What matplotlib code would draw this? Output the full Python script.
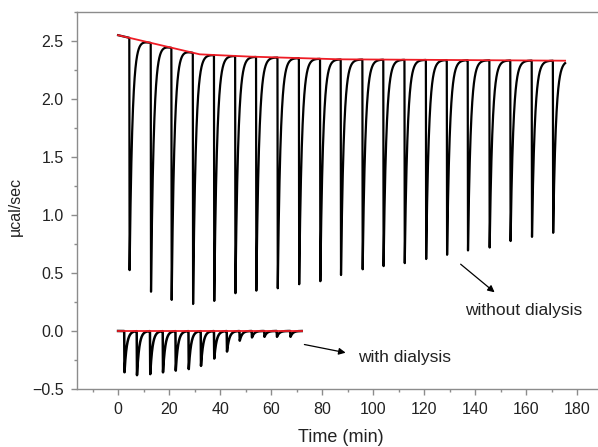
"""ITC thermogram: with and without dialysis."""

import matplotlib.pyplot as plt
import numpy as np
from matplotlib.ticker import MultipleLocator

plt.rcParams["font.family"] = ["Liberation Sans", "DejaVu Sans"]

# Без диализа: моменты инъекций (мин) и минимумы пиков (µcal/sec)
nd_inj = [4.4, 12.8, 20.9, 29.3, 37.6, 45.9, 54.1, 62.5, 70.9, 79.2, 87.3,
          95.8, 104.0, 112.3, 120.7, 128.9, 137.1, 145.6, 153.8, 162.2, 170.5]
nd_min = [0.52, 0.34, 0.26, 0.23, 0.26, 0.32, 0.345, 0.36, 0.40, 0.43, 0.475,
          0.53, 0.56, 0.58, 0.62, 0.65, 0.69, 0.72, 0.77, 0.81, 0.84]
nd_base_t = [0, 32, 52, 87, 175.3]
nd_base_v = [2.55, 2.385, 2.365, 2.342, 2.33]

# С диализом
wd_inj = [2.4, 7.3, 12.5, 17.5, 22.5, 27.6, 32.4, 37.6, 42.6, 47.6, 52.4,
          57.3, 62.2, 67.5]
wd_min = [-0.356, -0.38, -0.371, -0.356, -0.342, -0.328, -0.30, -0.237,
          -0.177, -0.083, -0.055, -0.05, -0.05, -0.05]
wd_base_t = [0, 72]
wd_base_v = [0.0, 0.0]


def thermogram(t, base_t, base_v, inj, mins, tau=1.1, drop=0.12):
    """Базовая линия минус пики с экспоненциальным восстановлением."""
    y = np.interp(t, base_t, base_v)
    for ti, m in zip(inj, mins):
        depth = np.interp(ti, base_t, base_v) - m
        dt = t - ti
        shape = np.where(dt < 0, 0.0,
                         np.where(dt < drop, dt / drop,
                                  np.exp(-(dt - drop) / tau)))
        y = y - depth * shape
    return y


fig = plt.figure(figsize=(5.98, 4.47), dpi=100)
ax = fig.add_axes([0.1288, 0.1298, 0.8712, 0.8434])

t_nd = np.linspace(0, nd_base_t[-1], 30000)
t_wd = np.linspace(0, wd_base_t[-1], 15000)

ax.plot(t_nd, thermogram(t_nd, nd_base_t, nd_base_v, nd_inj, nd_min, tau=1.1),
        color="black", lw=1.6)
ax.plot(t_wd, thermogram(t_wd, wd_base_t, wd_base_v, wd_inj, wd_min, tau=0.9),
        color="black", lw=1.8)
ax.plot(nd_base_t, nd_base_v, color="#ee1c25", lw=1.3)
ax.plot(wd_base_t, wd_base_v, color="#ee1c25", lw=1.3)

# Подписи со стрелками
arrow = dict(arrowstyle="-|>", color="black", lw=0.9, mutation_scale=10)
ax.annotate("", xy=(148.5, 0.318), xytext=(133.5, 0.591), arrowprops=arrow)
ax.text(136.1, 0.18, "without dialysis", fontsize=12.5, ha="left",
        va="center", color="#222222")
ax.annotate("", xy=(90.3, -0.192), xytext=(72.0, -0.112), arrowprops=arrow)
ax.text(94.2, -0.226, "with dialysis", fontsize=12.5, ha="left",
        va="center", color="#222222")

ax.set_xlim(-16.1, 188.2)
ax.set_ylim(-0.5, 2.75)
ax.xaxis.set_major_locator(MultipleLocator(20))
ax.xaxis.set_minor_locator(MultipleLocator(10))
ax.yaxis.set_major_locator(MultipleLocator(0.5))
ax.yaxis.set_minor_locator(MultipleLocator(0.25))
ax.set_xticks(np.arange(0, 181, 20))

ax.spines["right"].set_visible(False)
for side in ["left", "bottom", "top"]:
    ax.spines[side].set_color("#8c8c8c")
    ax.spines[side].set_linewidth(1.0)
ax.tick_params(which="major", direction="out", length=4.5, width=1.0,
               color="#8c8c8c", labelsize=11.5, labelcolor="#222222", pad=5)
ax.tick_params(which="minor", direction="out", length=2.5, width=1.0,
               color="#8c8c8c")
ax.tick_params(top=False, right=False, which="both")

ax.set_xlabel("Time (min)", fontsize=13, color="#222222", va="center")
ax.set_ylabel("µcal/sec", fontsize=11.5, color="#222222", va="center")
ax.xaxis.set_label_coords(0.506, -0.13)
ax.yaxis.set_label_coords(-0.119, 0.4836)

fig.savefig("out.png", dpi=100)
